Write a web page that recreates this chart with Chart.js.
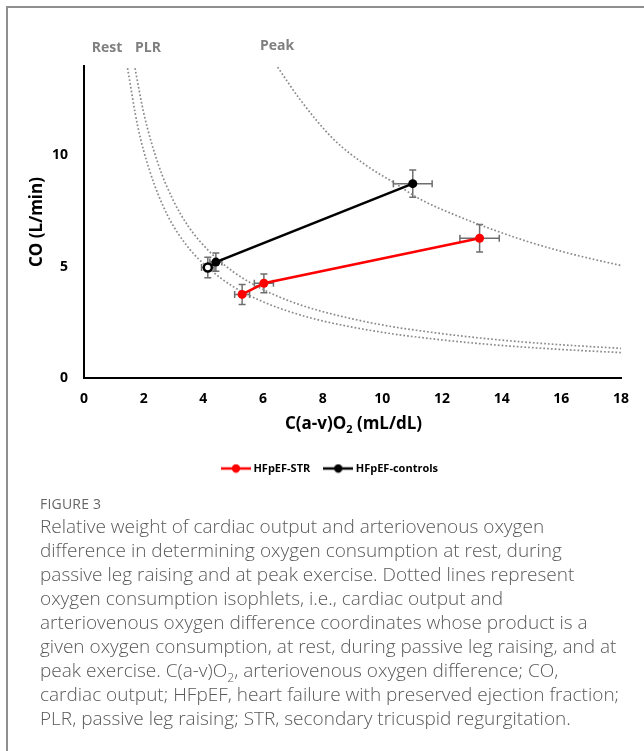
<!DOCTYPE html>
<html>
<head>
<meta charset="utf-8">
<script src="https://cdn.jsdelivr.net/npm/chart.js@4.4.1/dist/chart.umd.min.js"></script>
<style>
  body { margin: 0; background: #fff; width: 644px; height: 751px; overflow: hidden; position: relative; font-family: "Open Sans", sans-serif; }
  .frame { position: absolute; left: 6px; top: 6px; width: 700px; height: 800px; border-left: 2px solid #8f8f8f; border-top: 2px solid #8f8f8f; }
  .plot { position: absolute; left: 0; top: 0; width: 644px; height: 500px; }
  .caption { position: absolute; left: 40px; top: 494px; color: #595959; }
  .fig { font-size: 14px; line-height: 20px; letter-spacing: 0.2px; color: #666; }
  .text { font-size: 19px; font-weight: 300; line-height: 24px; white-space: nowrap; }
  .text sub { font-size: 12px; line-height: 0; }
</style>
</head>
<body>
<div class="frame"></div>
<div class="plot"><canvas id="chart"></canvas></div>
<div class="caption">
  <div class="fig">FIGURE 3</div>
  <div class="text">Relative weight of cardiac output and arteriovenous oxygen<br>difference in determining oxygen consumption at rest, during<br>passive leg raising and at peak exercise. Dotted lines represent<br>oxygen consumption isophlets, i.e., cardiac output and<br>arteriovenous oxygen difference coordinates whose product is a<br>given oxygen consumption, at rest, during passive leg raising, and at<br>peak exercise. C(a-v)O<sub>2</sub>, arteriovenous oxygen difference; CO,<br>cardiac output; HFpEF, heart failure with preserved ejection fraction;<br>PLR, passive leg raising; STR, secondary tricuspid regurgitation.</div>
</div>
<script>
// ── data ─────────────────────────────────────────────────────────────
var seriesNames = ['HFpEF-STR', 'HFpEF-controls'];

// points: rest, PLR, peak
var strX    = [5.30, 6.03, 13.26];
var strY    = [3.75, 4.25, 6.27];
var strXErr = [0.25, 0.32, 0.66];
var strYErr = [0.45, 0.42, 0.62];

var ctrlX    = [4.15, 4.42, 11.02];
var ctrlY    = [4.96, 5.20, 8.72];
var ctrlXErr = [0.21, 0.20, 0.65];
var ctrlYErr = [0.46, 0.41, 0.61];

// dotted isopleths
var isoNames = ['Rest', 'PLR', 'Peak'];
var restIsoX = [1.46, 1.8, 2.2, 2.8, 3.5, 4.2, 5, 6, 7, 8, 10, 12, 14, 16, 18];
var restIsoY = [13.9, 11.3, 9.3, 7.3, 5.85, 4.9, 4.1, 3.42, 2.93, 2.56, 2.05, 1.71, 1.46, 1.28, 1.14];
var plrIsoX  = [1.71, 2.0, 2.5, 3.0, 3.5, 4.2, 5, 6, 7, 8, 10, 12, 14, 16, 18];
var plrIsoY  = [13.9, 11.9, 9.55, 7.95, 6.8, 5.68, 4.77, 3.97, 3.4, 2.98, 2.38, 1.99, 1.7, 1.49, 1.33];
var peakIsoX = [6.49, 7.24, 8.36, 9.48, 10.37, 11.26, 12.5, 13.95, 15, 16.18, 17, 18];
var peakIsoY = [13.95, 12.5, 10.72, 9.52, 8.78, 8.03, 7.28, 6.54, 6.07, 5.62, 5.35, 5.05];

var xTicks = [0, 2, 4, 6, 8, 10, 12, 14, 16, 18];
var yTicks = [0, 5, 10];

// ── helpers ──────────────────────────────────────────────────────────
function pts(xs, ys) {
  return xs.map(function (x, i) { return { x: x, y: ys[i] }; });
}

function legendIcon(color) {
  var c = document.createElement('canvas');
  c.width = 30; c.height = 10;
  var g = c.getContext('2d');
  g.strokeStyle = color; g.lineWidth = 2.5;
  g.beginPath(); g.moveTo(0, 5); g.lineTo(30, 5); g.stroke();
  g.fillStyle = color;
  g.beginPath(); g.arc(15, 5, 4.2, 0, Math.PI * 2); g.fill();
  return c;
}
var icons = [legendIcon('#ff0000'), legendIcon('#000000')];

var errBars = [
  { x: strX, y: strY, xe: strXErr, ye: strYErr },
  { x: ctrlX, y: ctrlY, xe: ctrlXErr, ye: ctrlYErr }
];

function isoSet(name, xs, ys) {
  return {
    label: name,
    data: pts(xs, ys),
    showLine: true,
    borderColor: '#8a8a8a',
    borderWidth: 1.7,
    borderDash: [1.7, 2.1],
    pointRadius: 0,
    cubicInterpolationMode: 'monotone',
    fill: false
  };
}

var extras = {
  id: 'extras',
  beforeDatasetsDraw: function (chart) {
    var ctx = chart.ctx, xs = chart.scales.x, ys = chart.scales.y;
    ctx.save();
    ctx.strokeStyle = '#6e6e6e';
    ctx.lineWidth = 1.5;
    var cap = 3.5;
    errBars.forEach(function (s) {
      s.x.forEach(function (xv, i) {
        var px = xs.getPixelForValue(xv), py = ys.getPixelForValue(s.y[i]);
        var x0 = xs.getPixelForValue(xv - s.xe[i]), x1 = xs.getPixelForValue(xv + s.xe[i]);
        var y0 = ys.getPixelForValue(s.y[i] - s.ye[i]), y1 = ys.getPixelForValue(s.y[i] + s.ye[i]);
        ctx.beginPath();
        ctx.moveTo(x0, py); ctx.lineTo(x1, py);
        ctx.moveTo(x0, py - cap); ctx.lineTo(x0, py + cap);
        ctx.moveTo(x1, py - cap); ctx.lineTo(x1, py + cap);
        ctx.moveTo(px, y0); ctx.lineTo(px, y1);
        ctx.moveTo(px - cap, y0); ctx.lineTo(px + cap, y0);
        ctx.moveTo(px - cap, y1); ctx.lineTo(px + cap, y1);
        ctx.stroke();
      });
    });
    ctx.restore();
  },
  afterDraw: function (chart) {
    var ctx = chart.ctx, area = chart.chartArea;
    ctx.save();
    ctx.fillStyle = '#000';
    ctx.textBaseline = 'middle';

    // x axis title with subscript
    var big = 'bold 17px "Open Sans"', small = 'bold 11px "Open Sans"';
    var p1 = 'C(a-v)O', p2 = '2', p3 = ' (mL/dL)';
    ctx.font = big; var w1 = ctx.measureText(p1).width, w3 = ctx.measureText(p3).width;
    ctx.font = small; var w2 = ctx.measureText(p2).width;
    var cx = (area.left + area.right) / 2 + 1, ty = 424;
    var sx = cx - (w1 + w2 + w3) / 2;
    ctx.textAlign = 'left';
    ctx.font = big; ctx.fillText(p1, sx, ty);
    ctx.font = small; ctx.fillText(p2, sx + w1, ty + 6);
    ctx.font = big; ctx.fillText(p3, sx + w1 + w2, ty);

    // y axis title
    ctx.save();
    ctx.translate(37, (area.top + area.bottom) / 2);
    ctx.rotate(-Math.PI / 2);
    ctx.textAlign = 'center';
    ctx.font = big;
    ctx.fillText('CO (L/min)', 0, 0);
    ctx.restore();

    // isopleth names
    ctx.fillStyle = '#7f7f7f';
    ctx.font = 'bold 14px "Open Sans"';
    ctx.textAlign = 'center';
    ctx.fillText(isoNames[0], 107, 48);
    ctx.fillText(isoNames[1], 148, 48);
    ctx.fillText(isoNames[2], 277, 46);
    ctx.restore();
  }
};

Chart.defaults.font.family = '"Open Sans", sans-serif';
Chart.defaults.color = '#000';

new Chart(document.getElementById('chart'), {
  type: 'scatter',
  data: {
    datasets: [
      {
        label: seriesNames[0],
        data: pts(strX, strY),
        showLine: true,
        borderColor: '#ff0000',
        borderWidth: 2.5,
        pointRadius: 4.5,
        pointBackgroundColor: '#ff0000',
        pointBorderWidth: 0
      },
      {
        label: seriesNames[1],
        data: pts(ctrlX, ctrlY),
        showLine: true,
        borderColor: '#000000',
        borderWidth: 2.5,
        pointRadius: [4, 4.5, 4.5],
        pointBackgroundColor: ['#ffffff', '#000000', '#000000'],
        pointBorderColor: '#000000',
        pointBorderWidth: [2.5, 0, 0]
      },
      isoSet(isoNames[0], restIsoX, restIsoY),
      isoSet(isoNames[1], plrIsoX, plrIsoY),
      isoSet(isoNames[2], peakIsoX, peakIsoY)
    ]
  },
  options: {
    responsive: true,
    maintainAspectRatio: false,
    animation: false,
    layout: { padding: { top: 66, left: 41, right: 23, bottom: 16 } },
    plugins: {
      tooltip: { enabled: false },
      legend: {
        position: 'bottom',
        labels: {
          usePointStyle: true,
          pointStyleWidth: 24,
          padding: 16,
          color: '#000',
          font: { size: 11, weight: 'bold' },
          filter: function (item) { return item.datasetIndex < 2; },
          generateLabels: function (chart) {
            var items = Chart.defaults.plugins.legend.labels.generateLabels(chart);
            items.forEach(function (it) {
              if (it.datasetIndex < 2) it.pointStyle = icons[it.datasetIndex];
            });
            return items;
          }
        }
      }
    },
    scales: {
      x: {
        type: 'linear',
        min: 0, max: 18,
        grid: { display: false, drawTicks: false },
        border: { display: true, color: '#000', width: 2 },
        afterBuildTicks: function (s) { s.ticks = xTicks.map(function (v) { return { value: v }; }); },
        afterFit: function (s) { s.height = 500 - 16 - s.chart.legend.height - 378; },
        ticks: { padding: 13, font: { size: 14, weight: 'bold' }, color: '#000' }
      },
      y: {
        type: 'linear',
        min: 0, max: 14,
        grid: { display: false, drawTicks: false },
        border: { display: true, color: '#000', width: 2 },
        afterBuildTicks: function (s) { s.ticks = yTicks.map(function (v) { return { value: v }; }); },
        afterFit: function (s) { s.width = 43; },
        ticks: { padding: 16, font: { size: 14, weight: 'bold' }, color: '#000' }
      }
    }
  },
  plugins: [extras]
});
</script>
</body>
</html>
